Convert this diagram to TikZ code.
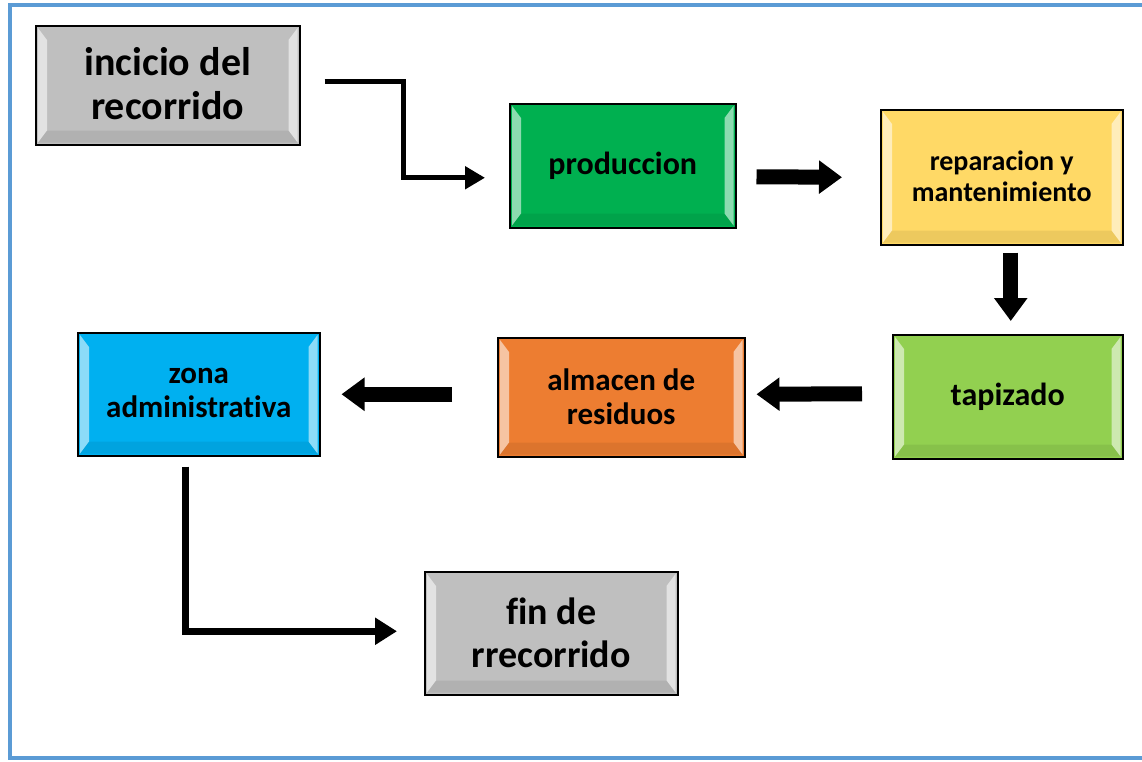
\documentclass[tikz,border=0pt]{standalone}
\usepackage{fontspec}
\setmainfont[Ligatures=NoCommon]{Carlito}
\usetikzlibrary{arrows.meta,calc}
\definecolor{frameblue}{HTML}{5B9BD5}
\definecolor{cgray}{HTML}{BFBFBF}
\definecolor{cgreen}{HTML}{00B050}
\definecolor{cyellow}{HTML}{FFD966}
\definecolor{clgreen}{HTML}{92D050}
\definecolor{corange}{HTML}{ED7D31}
\definecolor{cblue}{HTML}{00B0F0}
\tikzset{
  boxst/.style={draw=black, line width=1.5pt, anchor=north west, inner sep=0pt},
  lbl/.style={align=center, inner sep=0pt},
  block/.style={line width=15pt, -{Triangle[length=23pt,width=32pt]}},
  thinarrow/.style={line width=5pt, -{Triangle[length=20pt,width=22pt]}},
  thickarrow/.style={line width=7pt, -{Triangle[length=22pt,width=26pt]}},
}
\newcommand{\bevel}[1]{%
  \fill[white,opacity=0.55] ($(#1.north west)+(3,3)$) -- ($(#1.north west)+(12,15)$) -- ($(#1.south west)+(12,-15)$) -- ($(#1.south west)+(3,-3)$) -- cycle;
  \fill[white,opacity=0.55] ($(#1.north east)+(-3,3)$) -- ($(#1.north east)+(-12,15)$) -- ($(#1.south east)+(-12,-15)$) -- ($(#1.south east)+(-3,-3)$) -- cycle;
  \fill[black,opacity=0.07] ($(#1.south west)+(3,-3)$) -- ($(#1.south west)+(12,-15)$) -- ($(#1.south east)+(-12,-15)$) -- ($(#1.south east)+(-3,-3)$) -- cycle;
}
\begin{document}
\begin{tikzpicture}[x=1pt,y=-1pt]
\useasboundingbox (0,0) rectangle (1142,761);
\fill[white] (0,0) rectangle (1142,761);
\draw[frameblue, line width=4pt] (10,5) rectangle (1152,758);

\node[boxst, fill=cgray, minimum width=264pt, minimum height=119pt] (ini) at (35,25) {};
\node[boxst, fill=cgreen, minimum width=226pt, minimum height=124pt] (prod) at (509,103) {};
\node[boxst, fill=cyellow, minimum width=242pt, minimum height=135pt] (rep) at (880,109) {};
\node[boxst, fill=clgreen, minimum width=230pt, minimum height=124pt] (tap) at (892,334) {};
\node[boxst, fill=corange, minimum width=247pt, minimum height=119pt] (alm) at (497,337) {};
\node[boxst, fill=cblue, minimum width=242pt, minimum height=123pt] (zona) at (77,332) {};
\node[boxst, fill=cgray, minimum width=253pt, minimum height=123pt] (fin) at (424,571) {};

\bevel{ini}\bevel{prod}\bevel{rep}\bevel{tap}\bevel{alm}\bevel{zona}\bevel{fin}
\node[lbl, font=\bfseries\fontsize{40}{44}\selectfont] (tini) at ($(ini)+(0,-2)$) {incicio del\\recorrido};
\node[lbl, font=\bfseries\fontsize{32}{34}\selectfont] (tprod) at (prod) {produccion};
\node[lbl, font=\bfseries\fontsize{28}{31}\selectfont] (trep) at ($(rep)+(0,-1)$) {reparacion y\\mantenimiento};
\node[lbl, font=\bfseries\fontsize{32}{34}\selectfont] (ttap) at (tap) {tapizado};
\node[lbl, font=\bfseries\fontsize{31}{34}\selectfont] (talm) at ($(alm)+(0,-1)$) {almacen de\\residuos};
\node[lbl, font=\bfseries\fontsize{31}{34}\selectfont] (tzona) at ($(zona)+(0,-1)$) {zona\\administrativa};
\node[lbl, font=\bfseries\fontsize{38}{43}\selectfont] (tfin) at (fin) {fin de\\rrecorrido};

\draw[thinarrow] ($(ini.east)+(24,-4)$) -| ($(prod.west)+(-106,12)$) -- ($(prod.west)+(-24,12)$);
\draw[block] ($(prod.east)+(20,11)$) -- ($(rep.west)+(-38,0)$);
\draw[block] ($(rep.south)+(9,7)$) -- ($(tap.north)+(3,-13)$);
\draw[block] ($(tap.west)+(-30,-3)$) -- ($(alm.east)+(11,-3)$);
\draw[block] ($(alm.west)+(-45,-3)$) -- ($(zona.east)+(21,0)$);
\draw[thickarrow] ($(zona.south west)+(108,10)$) |- ($(fin.west)+(-27,-2)$);
\end{tikzpicture}
\end{document}
